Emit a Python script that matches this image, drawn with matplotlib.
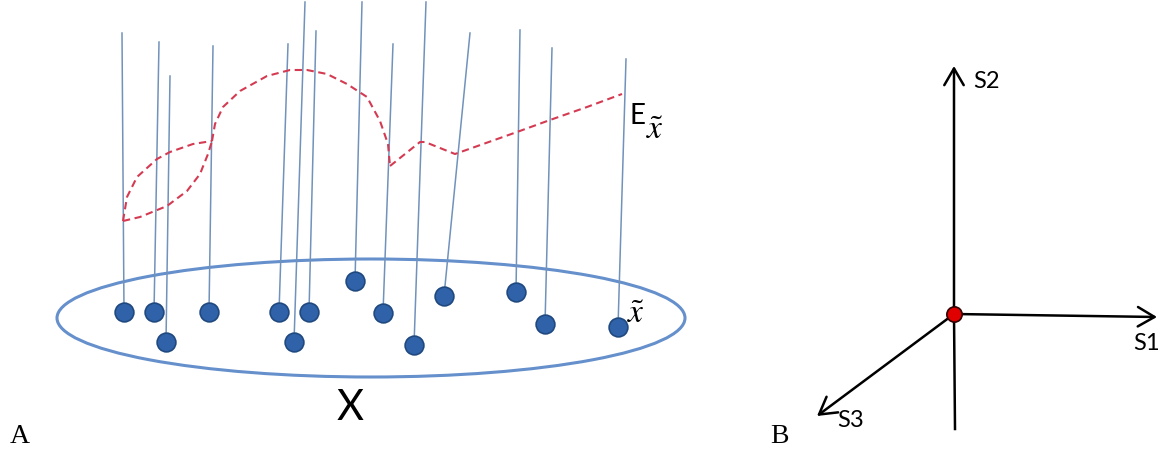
import matplotlib
matplotlib.use('Agg')
import matplotlib.pyplot as plt
from matplotlib.patches import Ellipse

# --- panel A: points on the ellipse X and their fibres ---
dot_x = [124, 154, 166, 209, 279, 294, 309, 355, 383, 414, 444, 516, 545, 618]
dot_y = [313, 313, 343, 313, 313, 343, 313, 282, 314, 346, 297, 293, 325, 328]
top_x = [122, 159, 170, 213, 288, 305, 316, 362, 393, 426, 470, 520, 552, 626]
top_y = [34, 43, 77, 47, 45, 3, 32, 3, 45, 3, 34, 31, 49, 60]

# red dashed section E_x
loop_up_x = [123, 127, 137, 157, 170, 193, 212]
loop_up_y = [222, 198, 178, 160, 153, 145, 142]
loop_lo_x = [123, 140, 167, 187, 200, 208, 212]
loop_lo_y = [222, 218, 207, 192, 175, 155, 142]
arc_x = [212, 215, 223, 240, 267, 290, 307, 327, 347, 367, 380, 388, 390]
arc_y = [142, 125, 108, 92, 77, 71, 71, 75, 85, 98, 122, 145, 167]
tail_x = [390, 420, 425, 455, 517, 550, 587, 622]
tail_y = [167, 143, 143, 155, 133, 121, 108, 95]

# --- panel B: three axes from the origin ---
origin = (954, 315)
axis_tips = {'S1': (1157, 318), 'S2': (954, 67), 'S3': (817, 417)}
axis_label_pos = {'S1': (1147, 344), 'S2': (986, 81), 'S3': (851, 421)}
s2_bottom = (955, 430)

fig = plt.figure(figsize=(11.62, 4.56), dpi=100)
ax = fig.add_axes([0, 0, 1, 1])
ax.set_xlim(0, 1162)
ax.set_ylim(456, 0)
ax.axis('off')

ax.add_patch(Ellipse((371, 319), 628, 118, fill=False, edgecolor='#6590cc', lw=2.2))

for x0, y0, x1, y1 in zip(dot_x, dot_y, top_x, top_y):
    ax.plot([x0, x1], [y0, y1], color='#7192bb', lw=1.1, zorder=2)

ax.plot(dot_x, dot_y, 'o', ms=13.5, color='#2f62a8', mec='#20497f', mew=1.2, zorder=3)

red = '#d43b52'
for xs, ys in [(loop_up_x, loop_up_y), (loop_lo_x, loop_lo_y), (arc_x, arc_y), (tail_x, tail_y)]:
    ax.plot(xs, ys, color=red, lw=1.5, ls=(0, (3.5, 2.2)), zorder=4)

ax.text(629, 116, 'E', fontsize=20, family='Lato', va='center', ha='left')
ax.text(646, 130, r'$\tilde{x}$', fontsize=24, va='center', ha='left', math_fontfamily='stix')
ax.text(627, 314, r'$\tilde{x}$', fontsize=24, va='center', ha='left', math_fontfamily='stix')
ax.text(350, 408, 'X', fontsize=30, family='Lato', va='center', ha='center')
ax.text(10, 437, 'A', fontsize=20, family='Liberation Serif', va='center', ha='left')

# panel B
ax.plot([origin[0], s2_bottom[0]], [origin[1], s2_bottom[1]], color='black', lw=1.8)
for name, tip in axis_tips.items():
    ax.annotate('', xy=tip, xytext=origin,
                arrowprops=dict(arrowstyle='->,head_length=0.6,head_width=0.35',
                                color='black', lw=1.8, mutation_scale=20,
                                shrinkA=0, shrinkB=0))
    lx, ly = axis_label_pos[name]
    ax.text(lx, ly, name, fontsize=17, family='Lato', va='center', ha='center')

ax.plot(*origin, 'o', ms=11, color='#e00000', mec='#300000', mew=1.2, zorder=5)
ax.text(770, 437, 'B', fontsize=20, family='Liberation Serif', va='center', ha='left')

fig.savefig('out.png', dpi=100)
